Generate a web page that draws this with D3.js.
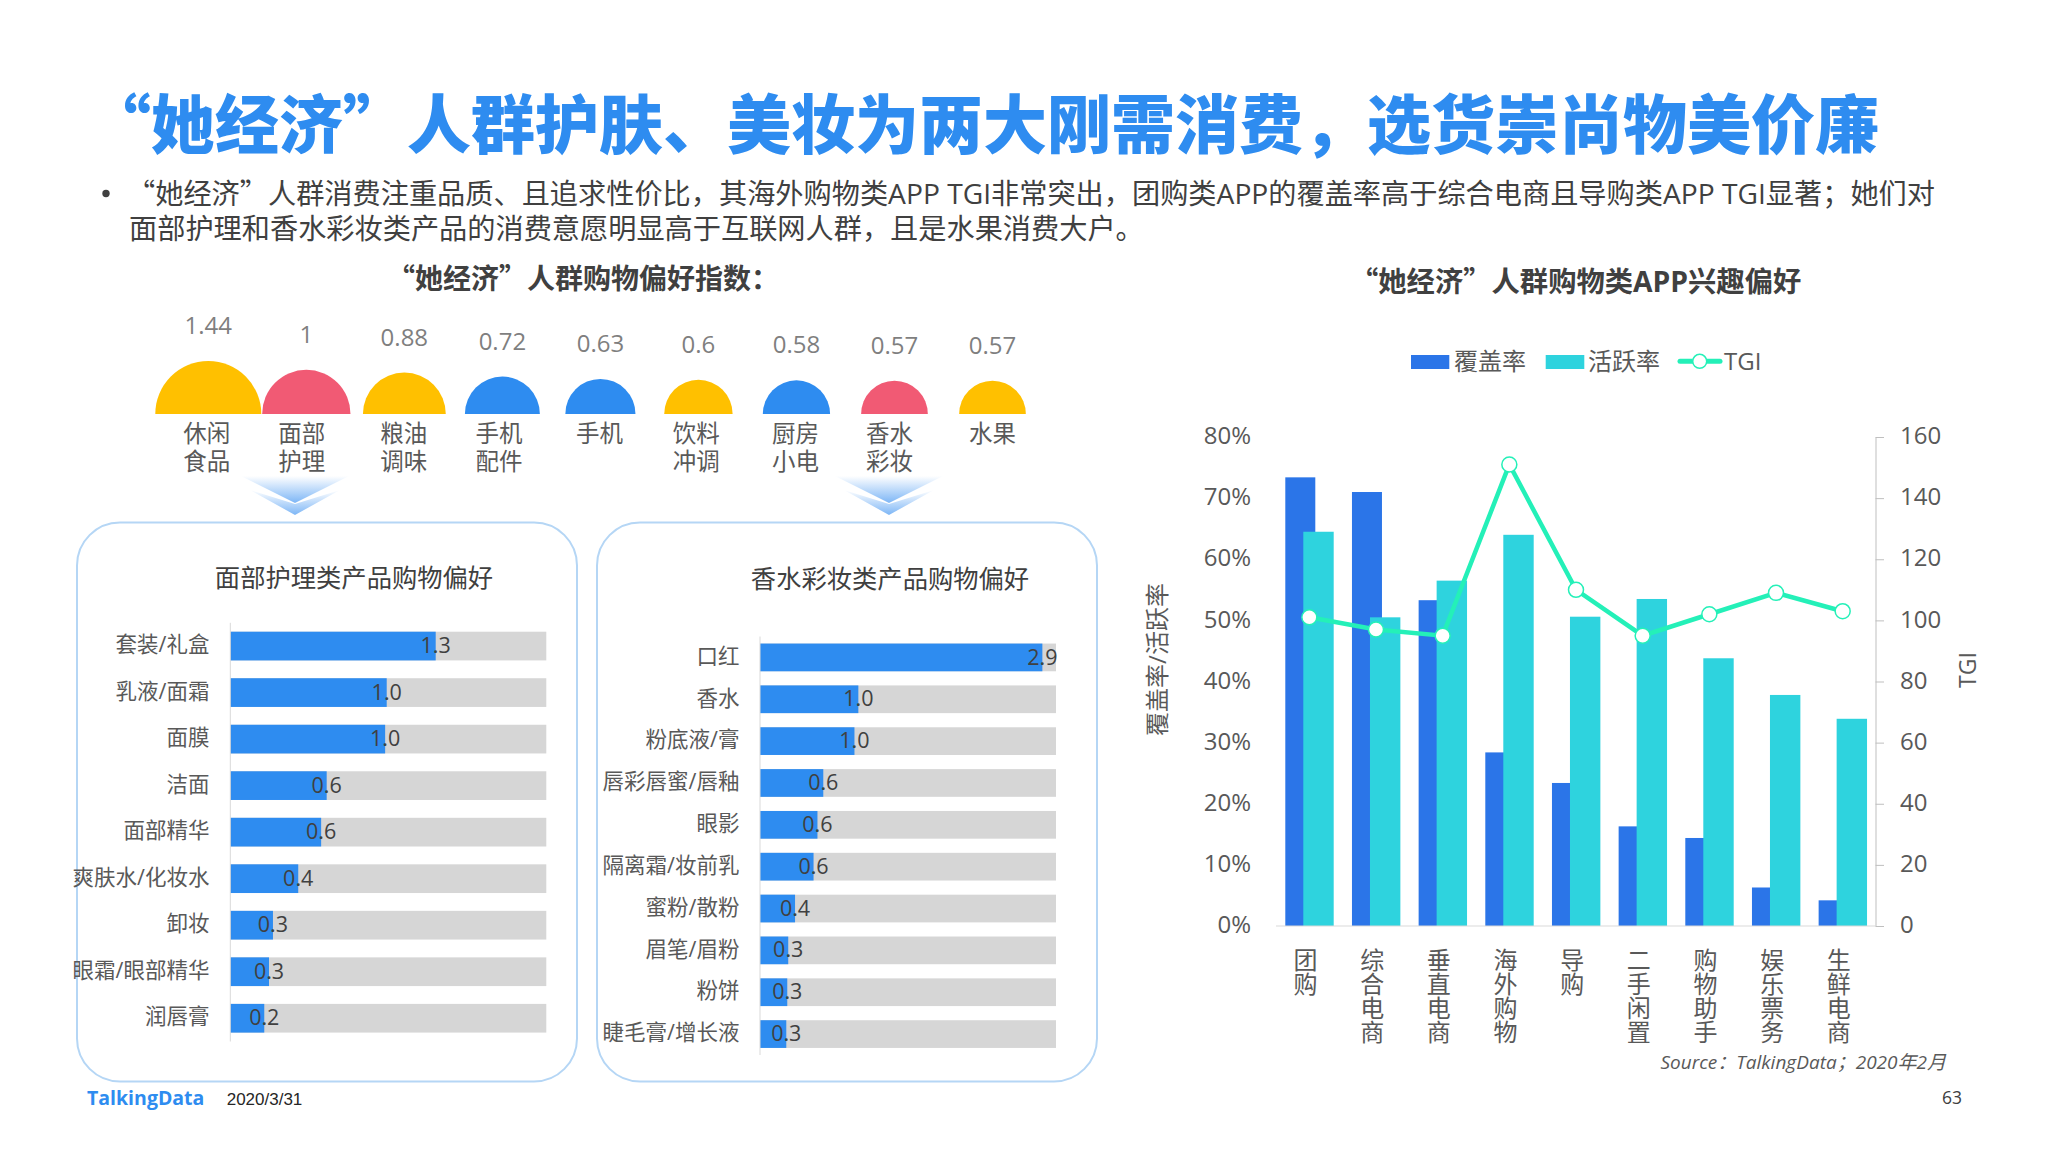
<!DOCTYPE html>
<html>
<head>
<meta charset="utf-8">
<script src="https://cdn.jsdelivr.net/npm/d3@7"></script>
<style>
    html, body { margin: 0; padding: 0; background: #fff; }
    svg text { font-family: "Open Sans", "Noto Sans CJK SC", sans-serif; }
    svg text.cjk, svg tspan.cjk { font-family: "Noto Sans CJK SC", sans-serif; }
</style>
</head>
<body>
<svg id="slide" width="2048" height="1152"></svg>
<script>
var svg = d3.select("#slide");
var grey = "#595959";
var dark = "#404040";

svg.append("rect").attr("width", 2048).attr("height", 1152).attr("fill", "#fff");

//Chinese quotes must come from the CJK font or they turn out narrow
function quoted(sel, str) {
    str.split(/([“”：])/).forEach(function(part) {
        if (part === "") return;
        sel.append("tspan")
            .attr("class", /^[“”：]$/.test(part) ? "cjk" : null)
            .text(part);
    });
}

//Gradient of the two arrows
var defs = svg.append("defs");
var grad = defs.append("linearGradient")
    .attr("id", "arrow_grad")
    .attr("x1", 0).attr("y1", 0).attr("x2", 0).attr("y2", 1);
grad.append("stop").attr("offset", "0%").attr("stop-color", "#fff");
grad.append("stop").attr("offset", "100%").attr("stop-color", "#7db6f6");

//Header
svg.append("text")
    .attr("class", "cjk")
    .attr("x", 87).attr("y", 147.5)
    .attr("font-size", 64)
    .attr("font-weight", 900)
    .attr("fill", "#2e8cf0")
    .text("“她经济”人群护肤、美妆为两大刚需消费，选货崇尚物美价廉");

svg.append("circle").attr("cx", 106).attr("cy", 193.5).attr("r", 3.7).attr("fill", dark);

var intro = [
    {x: 127, y: 203.5, t: "“她经济”人群消费注重品质、且追求性价比，其海外购物类APP TGI非常突出，团购类APP的覆盖率高于综合电商且导购类APP TGI显著；她们对"},
    {x: 129, y: 239, t: "面部护理和香水彩妆类产品的消费意愿明显高于互联网人群，且是水果消费大户。"}
];
intro.forEach(function(d) {
    svg.append("text")
        .attr("x", d.x)
        .attr("y", d.y)
        .attr("font-size", 28.2)
        .attr("fill", dark)
        .call(quoted, d.t);
});

svg.append("text")
    .attr("x", 387).attr("y", 288.5)
    .attr("font-size", 28).attr("font-weight", 700).attr("fill", dark)
    .call(quoted, "“她经济”人群购物偏好指数：");

svg.append("text")
    .attr("x", 1350).attr("y", 291.5)
    .attr("font-size", 28.3).attr("font-weight", 700).attr("fill", dark)
    .call(quoted, "“她经济”人群购物类APP兴趣偏好");

//Preference index: half circles, area follows the value
var prefs = [
    {name: ["休闲", "食品"], value: 1.44, color: "#ffc000", dx: -1.6},
    {name: ["面部", "护理"], value: 1, color: "#f15a74", dx: -4.5},
    {name: ["粮油", "调味"], value: 0.88, color: "#ffc000", dx: -0.7},
    {name: ["手机", "配件"], value: 0.72, color: "#2e8cf0", dx: -3.4},
    {name: ["手机"], value: 0.63, color: "#2e8cf0", dx: -0.8},
    {name: ["饮料", "冲调"], value: 0.6, color: "#ffc000", dx: -2.3},
    {name: ["厨房", "小电"], value: 0.58, color: "#2e8cf0", dx: -1},
    {name: ["香水", "彩妆"], value: 0.57, color: "#f15a74", dx: -5},
    {name: ["水果"], value: 0.57, color: "#ffc000", dx: 0}
];

var prefX = d3.scalePoint()
    .domain(d3.range(prefs.length))
    .range([208.3, 992.5]);
var prefR = d3.scaleSqrt()
    .domain([0, 1.44])
    .range([0, 53]);
var prefBase = 414;
var halfArc = d3.arc()
    .innerRadius(0)
    .startAngle(-Math.PI / 2)
    .endAngle(Math.PI / 2);

var pref = svg.selectAll(".pref")
    .data(prefs)
    .enter()
    .append("g")
    .attr("class", "pref")
    .attr("transform", function(d, i) {
        return "translate(" + prefX(i) + "," + prefBase + ")";
    });

pref.append("path")
    .attr("d", function(d) { return halfArc({outerRadius: prefR(d.value)}); })
    .attr("fill", function(d) { return d.color; });

pref.append("text")
    .attr("y", function(d) { return -prefR(d.value) - 27; })
    .attr("text-anchor", "middle")
    .attr("font-size", 24)
    .attr("fill", "#7f7f7f")
    .text(function(d) { return d.value; });

pref.each(function(d) {
    d3.select(this).selectAll(".pref_name")
        .data(d.name)
        .enter()
        .append("text")
        .attr("class", "pref_name")
        .attr("x", d.dx)
        .attr("y", function(n, i) { return 27.8 + i * 28.6; })
        .attr("text-anchor", "middle")
        .attr("font-size", 23.5)
        .attr("fill", grey)
        .text(function(n) { return n; });
});

//Double chevrons between index and panels
[295, 889].forEach(function(cx) {
    var a = svg.append("g").attr("transform", "translate(" + cx + ",0)");
    a.append("path")
        .attr("d", "M-45,490L0,504L45,490L0,515Z")
        .attr("fill", "url(#arrow_grad)");
    a.append("path")
        .attr("d", "M-54,476L54,476L0,503Z")
        .attr("fill", "url(#arrow_grad)");
});

//Horizontal bars inside the two panels
function barPanel(panel) {
    svg.append("rect")
        .attr("x", panel.x).attr("y", 522.5)
        .attr("width", 500).attr("height", 559)
        .attr("rx", 43).attr("ry", 43)
        .attr("fill", "none")
        .attr("stroke", "#b5d6f5")
        .attr("stroke-width", 2);

    svg.append("text")
        .attr("x", panel.titleX).attr("y", panel.titleY)
        .attr("text-anchor", "middle")
        .attr("font-size", 25.3)
        .attr("fill", dark)
        .text(panel.title);

    var x = d3.scaleLinear()
        .domain([0, panel.max])
        .range(panel.xRange);
    var y = d3.scaleBand()
        .domain(panel.rows.map(function(d) { return d[0]; }))
        .range(panel.yRange)
        .paddingInner(panel.padding)
        .paddingOuter(panel.padding / 2);

    var row = svg.selectAll(".row" + panel.id)
        .data(panel.rows)
        .enter()
        .append("g")
        .attr("class", "row" + panel.id);

    row.append("rect")
        .attr("x", x(0))
        .attr("y", function(d) { return y(d[0]); })
        .attr("width", x(panel.max) - x(0))
        .attr("height", y.bandwidth())
        .attr("fill", "#d6d6d6");

    row.append("rect")
        .attr("x", x(0))
        .attr("y", function(d) { return y(d[0]); })
        .attr("width", function(d) { return x(d[1]) - x(0); })
        .attr("height", y.bandwidth())
        .attr("fill", "#2e8cf0");

    row.append("text")
        .attr("x", function(d) { return x(d[1]); })
        .attr("y", function(d) { return y(d[0]) + y.bandwidth() / 2; })
        .attr("dy", "0.33em")
        .attr("text-anchor", "middle")
        .attr("font-size", 21.5)
        .attr("fill", dark)
        .text(function(d) { return d[2]; });

    row.append("text")
        .attr("x", panel.labelX)
        .attr("y", function(d) { return y(d[0]) + y.bandwidth() / 2; })
        .attr("dy", "0.29em")
        .attr("text-anchor", "end")
        .attr("font-size", 21.5)
        .attr("fill", grey)
        .text(function(d) { return d[0]; });

    svg.append("line")
        .attr("x1", x(0)).attr("x2", x(0))
        .attr("y1", panel.yRange[0]).attr("y2", panel.yRange[1])
        .attr("stroke", "#d9d9d9");
}

barPanel({
    id: 1, x: 77, title: "面部护理类产品购物偏好", titleX: 354, titleY: 586.5,
    max: 2, xRange: [230.3, 546.3], yRange: [622.8, 1041.5], padding: 0.383, labelX: 209.5,
    rows: [
        ["套装/礼盒", 1.3, "1.3"], ["乳液/面霜", 0.99, "1.0"], ["面膜", 0.98, "1.0"],
        ["洁面", 0.61, "0.6"], ["面部精华", 0.575, "0.6"], ["爽肤水/化妆水", 0.43, "0.4"],
        ["卸妆", 0.27, "0.3"], ["眼霜/眼部精华", 0.245, "0.3"], ["润唇膏", 0.215, "0.2"]
    ]
});

barPanel({
    id: 2, x: 597, title: "香水彩妆类产品购物偏好", titleX: 890, titleY: 587.5,
    max: 3.04, xRange: [760, 1056], yRange: [636.5, 1055], padding: 0.338, labelX: 739.5,
    rows: [
        ["口红", 2.9, "2.9"], ["香水", 1.01, "1.0"], ["粉底液/膏", 0.97, "1.0"],
        ["唇彩唇蜜/唇釉", 0.65, "0.6"], ["眼影", 0.59, "0.6"], ["隔离霜/妆前乳", 0.55, "0.6"],
        ["蜜粉/散粉", 0.36, "0.4"], ["眉笔/眉粉", 0.29, "0.3"], ["粉饼", 0.28, "0.3"],
        ["睫毛膏/增长液", 0.27, "0.3"]
    ]
});

//Combo chart on the right
var apps = [
    {name: "团购", cover: 73.4, active: 64.5, tgi: 101},
    {name: "综合电商", cover: 71, active: 50.5, tgi: 97},
    {name: "垂直电商", cover: 53.3, active: 56.5, tgi: 95},
    {name: "海外购物", cover: 28.4, active: 64, tgi: 151},
    {name: "导购", cover: 23.4, active: 50.6, tgi: 110},
    {name: "二手闲置", cover: 16.3, active: 53.5, tgi: 95},
    {name: "购物助手", cover: 14.4, active: 43.8, tgi: 102},
    {name: "娱乐票务", cover: 6.3, active: 37.8, tgi: 109},
    {name: "生鲜电商", cover: 4.2, active: 33.9, tgi: 103}
];

var x = d3.scaleBand()
    .domain(apps.map(function(d) { return d.name; }))
    .range([1276, 1876]);
var yLeft = d3.scaleLinear().domain([0, 80]).range([926, 437]);
var yRight = d3.scaleLinear().domain([0, 160]).range([926, 437]);

var chart = svg.append("g");
var group = chart.selectAll(".app")
    .data(apps)
    .enter()
    .append("g")
    .attr("class", "app")
    .attr("transform", function(d) { return "translate(" + x(d.name) + ",0)"; });

group.append("rect")
    .attr("x", 9.3)
    .attr("y", function(d) { return yLeft(d.cover); })
    .attr("width", 30)
    .attr("height", function(d) { return yLeft(0) - yLeft(d.cover); })
    .attr("fill", "#2b75e8");

group.append("rect")
    .attr("x", 27.3)
    .attr("y", function(d) { return yLeft(d.active); })
    .attr("width", 30.4)
    .attr("height", function(d) { return yLeft(0) - yLeft(d.active); })
    .attr("fill", "#2ed3de");

//X labels run downwards with upright chars
group.append("text")
    .attr("x", 28.5)
    .attr("y", 948)
    .attr("writing-mode", "vertical-rl")
    .attr("font-size", 24)
    .attr("fill", grey)
    .text(function(d) { return d.name; });

var axisLeft = chart.append("g")
    .attr("transform", "translate(1276,0)")
    .call(d3.axisLeft(yLeft).ticks(8).tickSize(0).tickPadding(25).tickFormat(function(d) { return d + "%"; }));
axisLeft.select(".domain").remove();
axisLeft.selectAll("text").attr("font-size", 24).attr("fill", grey).attr("dy", "0.28em");

var axisRight = chart.append("g")
    .attr("transform", "translate(1875.5,0)")
    .call(d3.axisRight(yRight).ticks(8).tickSize(8.5).tickPadding(16));
axisRight.select(".domain").attr("stroke", "#bfbfbf");
axisRight.selectAll("line").attr("stroke", "#bfbfbf");
axisRight.selectAll("text").attr("font-size", 24).attr("fill", grey).attr("dy", "0.28em");

chart.append("line")
    .attr("x1", 1276).attr("x2", 1876)
    .attr("y1", yLeft(0)).attr("y2", yLeft(0))
    .attr("stroke", "#d9d9d9");

var tgiLine = d3.line()
    .x(function(d) { return x(d.name) + x.bandwidth() / 2; })
    .y(function(d) { return yRight(d.tgi); });

chart.append("path")
    .datum(apps)
    .attr("d", tgiLine)
    .attr("fill", "none")
    .attr("stroke", "#24f0b8")
    .attr("stroke-width", 4.5);

chart.selectAll(".tgi")
    .data(apps)
    .enter()
    .append("circle")
    .attr("class", "tgi")
    .attr("cx", function(d) { return x(d.name) + x.bandwidth() / 2; })
    .attr("cy", function(d) { return yRight(d.tgi); })
    .attr("r", 7.5)
    .attr("fill", "#fff")
    .attr("stroke", "#24f0b8")
    .attr("stroke-width", 1.5);

//Axis titles
chart.append("text")
    .attr("transform", "translate(1166,659.5) rotate(-90)")
    .attr("text-anchor", "middle")
    .attr("font-size", 24).attr("fill", grey)
    .text("覆盖率/活跃率");
chart.append("text")
    .attr("transform", "translate(1976,670) rotate(-90)")
    .attr("text-anchor", "middle")
    .attr("font-size", 23).attr("fill", grey)
    .text("TGI");

//Legend
var legend = chart.append("g");
legend.append("rect").attr("x", 1411).attr("y", 355).attr("width", 38.3).attr("height", 14).attr("fill", "#2b75e8");
legend.append("text").attr("x", 1454).attr("y", 369.5).attr("font-size", 24).attr("fill", grey).text("覆盖率");
legend.append("rect").attr("x", 1545.7).attr("y", 355).attr("width", 38.6).attr("height", 14).attr("fill", "#2ed3de");
legend.append("text").attr("x", 1588).attr("y", 369.5).attr("font-size", 24).attr("fill", grey).text("活跃率");
legend.append("line").attr("x1", 1680).attr("x2", 1720).attr("y1", 361.3).attr("y2", 361.3)
    .attr("stroke", "#24f0b8").attr("stroke-width", 5).attr("stroke-linecap", "round");
legend.append("circle").attr("cx", 1699.7).attr("cy", 361.3).attr("r", 7).attr("fill", "#fff")
    .attr("stroke", "#24f0b8").attr("stroke-width", 1.5);
legend.append("text").attr("x", 1724).attr("y", 369.5).attr("font-size", 24).attr("fill", grey).text("TGI");

//Footer
svg.append("text")
    .attr("x", 1946).attr("y", 1069)
    .attr("text-anchor", "end")
    .attr("font-size", 19).attr("font-style", "italic").attr("fill", grey)
    .text("Source：TalkingData；2020年2月");
svg.append("text")
    .attr("x", 87).attr("y", 1105)
    .attr("font-size", 19.5).attr("font-weight", 700).attr("fill", "#2e8cf0")
    .text("TalkingData");
svg.append("text")
    .attr("x", 226.7).attr("y", 1105)
    .style("font-family", "'Liberation Sans', sans-serif")
    .attr("font-size", 17).attr("fill", "#262626")
    .text("2020/3/31");
svg.append("text")
    .attr("x", 1952).attr("y", 1104.3)
    .attr("text-anchor", "middle")
    .attr("font-size", 17.5).attr("fill", dark)
    .text("63");
</script>
</body>
</html>
